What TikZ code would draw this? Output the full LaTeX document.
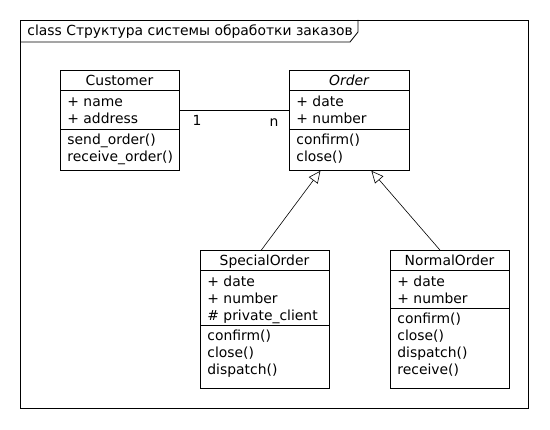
\documentclass[tikz,border=0pt]{standalone}
\usepackage{fontspec}
\setmainfont{DejaVu Sans}
\usetikzlibrary{arrows.meta}

\begin{document}
\begin{tikzpicture}[x=1pt, y=-1pt, font=\fontsize{13.9}{17}\selectfont, line width=0.8pt,
    cls/.style={draw, fill=white, anchor=north west, inner sep=0pt},
    item/.style={anchor=base west, inner sep=0pt},
    head/.style={anchor=base, inner sep=0pt},
    gen/.style={-{Triangle[open, length=12pt, width=11pt]}}]
    \useasboundingbox (0,0) rectangle (550,430);

    % frame with tab
    \draw (20,20) rectangle (528,408);
    \draw (20,42) -- (350,42) -- (358,32) -- (358,20);
    \node[item] (title) at (27,36) {class Структура системы обработки заказов};

    % Customer
    \node[cls, minimum width=119pt, minimum height=100pt] (customer) at (60,70) {};
    \node[head] (customer-h) at (119.5,86) {Customer};
    \draw (60,90) -- (179,90);
    \draw (60,129) -- (179,129);
    \foreach \t [count=\i] in {+ name, + address}
        \node[item] (customer-a\i) at (67,90+17*\i) {\t};
    \foreach \t [count=\i] in {send\_order(), receive\_order()}
        \node[item] (customer-m\i) at (67,128+17*\i) {\t};

    % Order
    \node[cls, minimum width=120pt, minimum height=100pt] (order) at (289,70) {};
    \node[head] (order-h) at (349,86) {\itshape Order};
    \draw (289,90) -- (409,90);
    \draw (289,129) -- (409,129);
    \foreach \t [count=\i] in {+ date, + number}
        \node[item] (order-a\i) at (296,90+17*\i) {\t};
    \foreach \t [count=\i] in {confirm(), close()}
        \node[item] (order-m\i) at (296,128+17*\i) {\t};

    % SpecialOrder
    \node[cls, minimum width=129pt, minimum height=138pt] (special) at (200,250) {};
    \node[head] (special-h) at (264.5,266) {SpecialOrder};
    \draw (200,270) -- (329,270);
    \draw (200,325) -- (329,325);
    \foreach \t [count=\i] in {+ date, + number, \# private\_client}
        \node[item] (special-a\i) at (207,270+17*\i) {\t};
    \foreach \t [count=\i] in {confirm(), close(), dispatch()}
        \node[item] (special-m\i) at (207,324+17*\i) {\t};

    % NormalOrder
    \node[cls, minimum width=119pt, minimum height=138pt] (normal) at (390,250) {};
    \node[head] (normal-h) at (449.5,266) {NormalOrder};
    \draw (390,270) -- (509,270);
    \draw (390,308) -- (509,308);
    \foreach \t [count=\i] in {+ date, + number}
        \node[item] (normal-a\i) at (397,270+17*\i) {\t};
    \foreach \t [count=\i] in {confirm(), close(), dispatch(), receive()}
        \node[item] (normal-m\i) at (397,307+17*\i) {\t};

    % association
    \draw ([yshift=-40pt]customer.north east) -- ([yshift=-40pt]order.north west);
    \node[head] (mult-1) at (197,126) {1};
    \node[head] (mult-n) at (274,127) {n};

    % generalization
    \draw[gen, line width=0.6pt] ([xshift=-3.5pt]special.north) -- ([xshift=-29pt]order.south);
    \draw[gen, line width=0.6pt] ([xshift=-10pt]normal.north) -- ([xshift=22pt]order.south);
\end{tikzpicture}
\end{document}
